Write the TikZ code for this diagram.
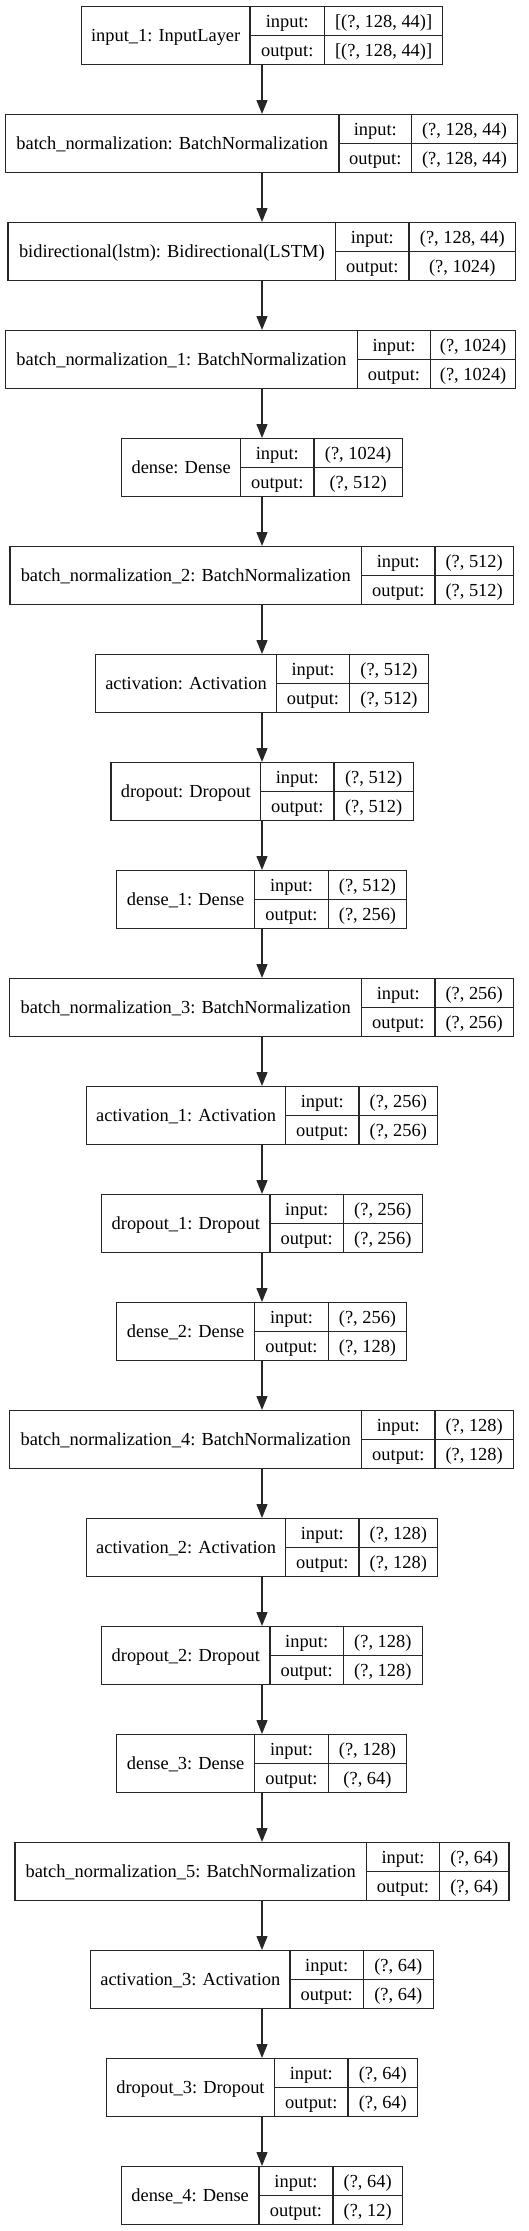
\documentclass[tikz,border=0pt]{standalone}
\usepackage{fontspec}
\setmainfont{Liberation Serif}
\usetikzlibrary{arrows.meta}
\tikzset{
  cell/.style={draw=black!85, line width=1.3pt, inner sep=0pt, anchor=north west,
    text height=12.4pt, text depth=0pt, align=center,
    font=\fontsize{18.4}{22}\selectfont},
  flow/.style={draw=black!85, line width=1.3pt, -{Triangle[length=14pt,width=11pt]}}
}
% #1 name, #2 index, #3 left, #4 divider 1, #5 divider 2, #6 right, #7 label, #8 input, #9 output
\newcommand{\klayer}[9]{%
  \pgfmathsetmacro{\yt}{6+108*(#2-1)}%
  \pgfmathsetmacro{\ym}{\yt+29}%
  \node[cell, minimum width={(#4-#3)*1pt}, minimum height=58pt] (#1) at (#3,\yt) {#7};
  \node[cell, minimum width={(#5-#4)*1pt}, minimum height=29pt] (#1-ik) at (#4,\yt) {input:};
  \node[cell, minimum width={(#5-#4)*1pt}, minimum height=29pt] (#1-ok) at (#4,\ym) {output:};
  \node[cell, minimum width={(#6-#5)*1pt}, minimum height=29pt] (#1-iv) at (#5,\yt) {#8};
  \node[cell, minimum width={(#6-#5)*1pt}, minimum height=29pt] (#1-ov) at (#5,\ym) {#9};
}
\begin{document}
\begin{tikzpicture}[x=1pt, y=-1pt]
\useasboundingbox (0,0) rectangle (528,2231);
\coordinate (axis) at (262,0);
\klayer{L1}{1}{80.7}{249.3}{324}{442}{input\_1: InputLayer}{[(?, 128, 44)]}{[(?, 128, 44)]}
\klayer{L2}{2}{5}{338.3}{411}{516.7}{batch\_normalization: BatchNormalization}{(?, 128, 44)}{(?, 128, 44)}
\klayer{L3}{3}{7.3}{335}{408.3}{515}{bidirectional(lstm): Bidirectional(LSTM)}{(?, 128, 44)}{(?, 1024)}
\klayer{L4}{4}{5}{356.7}{430}{515}{batch\_normalization\_1: BatchNormalization}{(?, 1024)}{(?, 1024)}
\klayer{L5}{5}{121}{240}{313.3}{401.7}{dense: Dense}{(?, 1024)}{(?, 512)}
\klayer{L6}{6}{9.3}{361}{434.3}{512.7}{batch\_normalization\_2: BatchNormalization}{(?, 512)}{(?, 512)}
\klayer{L7}{7}{95}{275.7}{349}{427.7}{activation: Activation}{(?, 512)}{(?, 512)}
\klayer{L8}{8}{110.3}{260}{333.3}{412.7}{dropout: Dropout}{(?, 512)}{(?, 512)}
\klayer{L9}{9}{116}{254}{327.7}{406}{dense\_1: Dense}{(?, 512)}{(?, 256)}
\klayer{L10}{10}{9}{361}{434.3}{512.7}{batch\_normalization\_3: BatchNormalization}{(?, 256)}{(?, 256)}
\klayer{L11}{11}{86}{285}{358.3}{437}{activation\_1: Activation}{(?, 256)}{(?, 256)}
\klayer{L12}{12}{101}{269.3}{342.7}{421.7}{dropout\_1: Dropout}{(?, 256)}{(?, 256)}
\klayer{L13}{13}{116}{254}{327.7}{406}{dense\_2: Dense}{(?, 256)}{(?, 128)}
\klayer{L14}{14}{9}{361}{434.3}{512.7}{batch\_normalization\_4: BatchNormalization}{(?, 128)}{(?, 128)}
\klayer{L15}{15}{86}{285}{358.3}{437}{activation\_2: Activation}{(?, 128)}{(?, 128)}
\klayer{L16}{16}{101}{269.3}{342.7}{421.7}{dropout\_2: Dropout}{(?, 128)}{(?, 128)}
\klayer{L17}{17}{116}{254}{327.7}{406}{dense\_3: Dense}{(?, 128)}{(?, 64)}
\klayer{L18}{18}{14.3}{365.7}{439}{508.3}{batch\_normalization\_5: BatchNormalization}{(?, 64)}{(?, 64)}
\klayer{L19}{19}{90}{289.3}{362.7}{432.7}{activation\_3: Activation}{(?, 64)}{(?, 64)}
\klayer{L20}{20}{105.7}{274}{347.3}{417}{dropout\_3: Dropout}{(?, 64)}{(?, 64)}
\klayer{L21}{21}{120.7}{258.3}{332.3}{401.7}{dense\_4: Dense}{(?, 64)}{(?, 12)}
\foreach \a/\b in {L1/L2,L2/L3,L3/L4,L4/L5,L5/L6,L6/L7,L7/L8,L8/L9,L9/L10,L10/L11,L11/L12,L12/L13,L13/L14,L14/L15,L15/L16,L16/L17,L17/L18,L18/L19,L19/L20,L20/L21}
  \draw[flow] (\a.south -| axis) -- (\b.north -| axis);
\end{tikzpicture}
\end{document}
